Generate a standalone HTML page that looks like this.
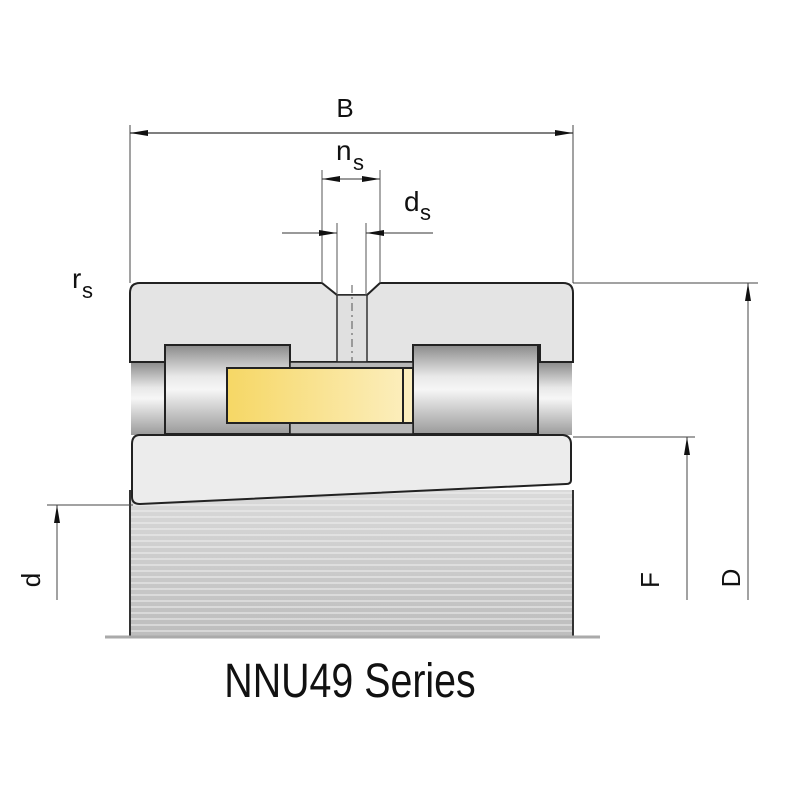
<!DOCTYPE html>
<html><head><meta charset="utf-8"><style>
html,body{margin:0;padding:0;background:#fff}
svg{display:block}
text{font-family:"Liberation Sans",sans-serif;fill:#111}
</style></head><body>
<svg width="800" height="800" viewBox="0 0 800 800" xmlns="http://www.w3.org/2000/svg">
<defs>
<linearGradient id="bore" x1="0" y1="0" x2="0" y2="1">
<stop offset="0" stop-color="#dadada"/><stop offset="1" stop-color="#bdbdbd"/></linearGradient>
<linearGradient id="roll" x1="0" y1="0" x2="0" y2="1">
<stop offset="0" stop-color="#8a8a8a"/><stop offset="0.35" stop-color="#e8e8e8"/><stop offset="0.5" stop-color="#f6f6f6"/><stop offset="1" stop-color="#9a9a9a"/></linearGradient>
<linearGradient id="cage" x1="0" y1="0" x2="1" y2="0">
<stop offset="0" stop-color="#f6d765"/><stop offset="1" stop-color="#fcefc0"/></linearGradient>
<pattern id="stripes" width="800" height="6" patternUnits="userSpaceOnUse">
<rect y="0" width="800" height="2" fill="#f0f0f0"/></pattern>
</defs>
<!-- bore region -->
<rect x="130" y="490" width="443" height="147" fill="url(#bore)"/>
<rect x="130" y="490" width="443" height="147" fill="url(#stripes)" opacity="0.5"/>
<line x1="130" y1="490" x2="130" y2="637" stroke="#333" stroke-width="2"/>
<line x1="573" y1="490" x2="573" y2="637" stroke="#333" stroke-width="2"/>
<line x1="105" y1="637" x2="600" y2="637" stroke="#aaa" stroke-width="3"/>
<!-- raceway band between rings -->
<rect x="131" y="362" width="441" height="73" fill="url(#roll)"/>
<!-- outer ring -->
<path d="M140 283 H322 L337 295 H367 L380 283 H563 Q573 283 573 293 V362 H540 V345 H413 V362 H290 V345 H165 V362 H130 V293 Q130 283 140 283 Z" fill="#e4e4e4" stroke="#222" stroke-width="2"/>
<rect x="337" y="295" width="30" height="67" fill="#e0e0e0" stroke="#333" stroke-width="1.5"/>
<line x1="352" y1="285" x2="352" y2="365" stroke="#555" stroke-width="1" stroke-dasharray="8 4 2 4"/>
<!-- rollers -->
<rect x="165" y="345" width="125" height="89" fill="url(#roll)" stroke="#222" stroke-width="2"/>
<rect x="413" y="345" width="125" height="89" fill="url(#roll)" stroke="#222" stroke-width="2"/>
<rect x="290" y="362" width="123" height="72" fill="#b8b8b8" stroke="#222" stroke-width="1.5"/>
<!-- cage -->
<rect x="227" y="368" width="186" height="55" fill="url(#cage)" stroke="#222" stroke-width="2"/>
<line x1="403" y1="368" x2="403" y2="423" stroke="#222" stroke-width="2"/>
<!-- inner ring -->
<path d="M140 435 H563 Q571 436 571 444 V480 Q571 484 566 484 L140 504 Q132 504 132 497 V444 Q132 435 140 435 Z" fill="#ececec" stroke="#222" stroke-width="2"/>
<!-- dimension B -->
<line x1="130" y1="125" x2="130" y2="283" stroke="#444" stroke-width="1"/>
<line x1="573" y1="125" x2="573" y2="283" stroke="#444" stroke-width="1"/>
<line x1="130" y1="133" x2="573" y2="133" stroke="#333" stroke-width="1.2"/>
<polygon points="130,133 148,130 148,136" fill="#111"/>
<polygon points="573,133 555,130 555,136" fill="#111"/>
<text x="345" y="117" font-size="26" text-anchor="middle">B</text>
<!-- ns -->
<line x1="322" y1="170" x2="322" y2="283" stroke="#555" stroke-width="1"/>
<line x1="380" y1="170" x2="380" y2="283" stroke="#555" stroke-width="1"/>
<line x1="322" y1="179" x2="380" y2="179" stroke="#333" stroke-width="1"/>
<polygon points="322,179 340,176 340,182" fill="#111"/>
<polygon points="380,179 362,176 362,182" fill="#111"/>
<text x="336" y="160" font-size="28">n</text><text x="353" y="170" font-size="22">s</text>
<!-- ds -->
<line x1="337" y1="223" x2="337" y2="295" stroke="#555" stroke-width="1"/>
<line x1="366" y1="223" x2="366" y2="295" stroke="#555" stroke-width="1"/>
<line x1="282" y1="233" x2="337" y2="233" stroke="#333" stroke-width="1"/>
<line x1="366" y1="233" x2="433" y2="233" stroke="#333" stroke-width="1"/>
<polygon points="337,233 319,230 319,236" fill="#111"/>
<polygon points="366,233 384,230 384,236" fill="#111"/>
<text x="404" y="211" font-size="28">d</text><text x="420" y="220" font-size="22">s</text>
<!-- rs -->
<text x="72" y="288" font-size="28">r</text><text x="82" y="298" font-size="22">s</text>
<!-- D -->
<line x1="573" y1="283" x2="758" y2="283" stroke="#444" stroke-width="1"/>
<line x1="748" y1="283" x2="748" y2="600" stroke="#444" stroke-width="1"/>
<polygon points="748,283 745,301 751,301" fill="#111"/>
<text transform="translate(740,578) rotate(-90)" font-size="26" text-anchor="middle">D</text>
<!-- F -->
<line x1="573" y1="437" x2="695" y2="437" stroke="#444" stroke-width="1"/>
<line x1="687" y1="437" x2="687" y2="600" stroke="#444" stroke-width="1"/>
<polygon points="687,437 684,455 690,455" fill="#111"/>
<text transform="translate(659,580) rotate(-90)" font-size="26" text-anchor="middle">F</text>
<!-- d -->
<line x1="47" y1="505" x2="133" y2="505" stroke="#444" stroke-width="1"/>
<line x1="57" y1="505" x2="57" y2="600" stroke="#444" stroke-width="1"/>
<polygon points="57,505 54,523 60,523" fill="#111"/>
<text transform="translate(40,580) rotate(-90)" font-size="26" text-anchor="middle">d</text>
<!-- title -->
<text transform="translate(350,697) scale(0.82,1)" font-size="48" text-anchor="middle">NNU49 Series</text>
</svg>
</body></html>
